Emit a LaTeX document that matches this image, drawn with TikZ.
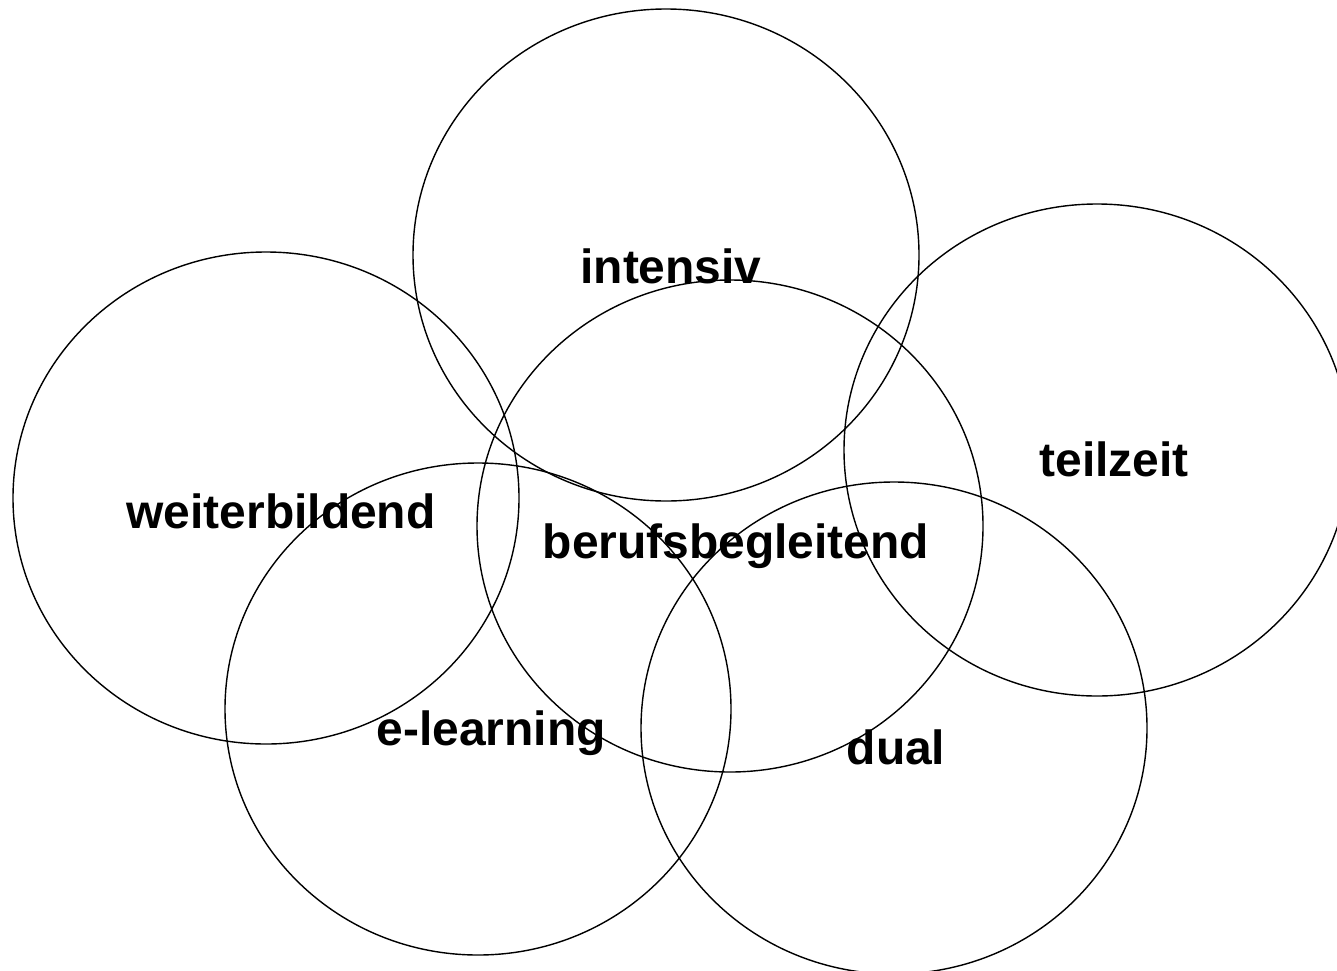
\documentclass[tikz,border=0pt]{standalone}
\usepackage{fontspec}
\setmainfont{Liberation Sans}
\usetikzlibrary{positioning}

\begin{document}
\begin{tikzpicture}[x=0.02cm, y=-0.02cm,
  ring/.style = {draw, line width = 0.8pt},
  lbl/.style = {anchor = base, inner sep = 0pt, font = \fontsize{27.3}{32}\selectfont\bfseries}]
\useasboundingbox (0,0) rectangle (1337,970);
\coordinate (cI) at (666,255);
\coordinate (cW) at (266,498);
\coordinate (cB) at (730,526);
\coordinate (cT) at (1097,450);
\coordinate (cE) at (478,709);
\coordinate (cD) at (894,728);
\foreach \c in {cI, cW, cB, cT, cE, cD}{
\draw[ring] (\c) ellipse [x radius = 253, y radius = 246];
}
\node[lbl] (intensiv) at (671,283) {intensiv};
\node[lbl] (weiter) at (281,528) {weiterbildend};
\node[lbl] (beruf) at (736,558) {berufsbegleitend};
\node[lbl] (teil) at (1114,476) {teilzeit};
\node[lbl] (elearn) at (491,745) {e-learning};
\node[lbl] (dual) at (896,764) {dual};
\end{tikzpicture}
\end{document}
